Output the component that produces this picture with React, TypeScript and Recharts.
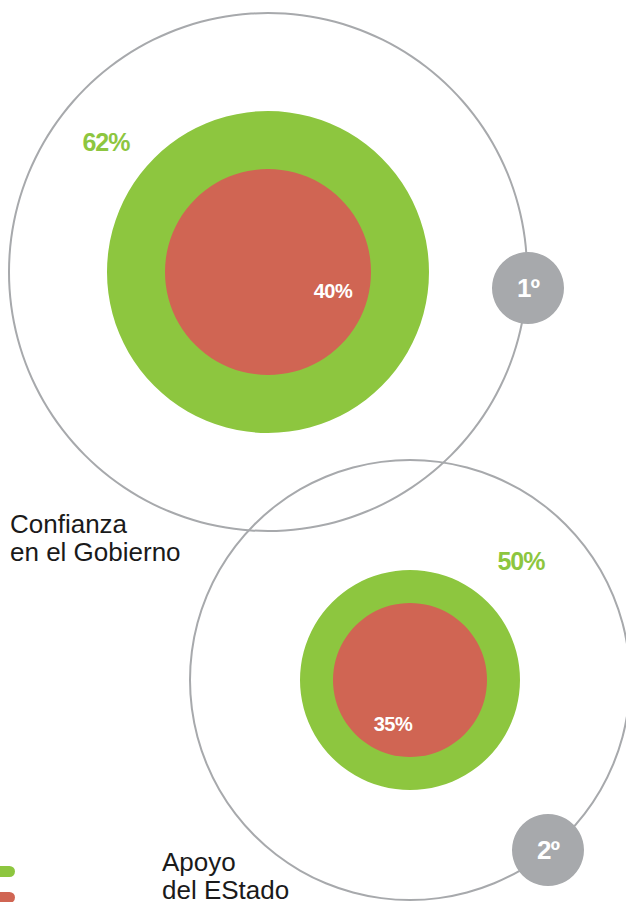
import { PieChart, Pie, Cell } from 'recharts';

// data
const groups = [['Confianza', 'en el Gobierno'], ['Apoyo', 'del EStado']];
const greenValues = [62, 50];
const redValues = [40, 35];
const ranks = ['1º', '2º'];

const GREEN = '#8dc63f';
const RED = '#d06553';
const GRAY = '#a7a9ac';
const FONT = '"Liberation Sans", Arial, Helvetica, sans-serif';

// layout (pixels)
const layout = [
  {
    cx: 268, cy: 272, outer: 259, green: 161, red: 103,
    badge: { x: 528, y: 288 },
    greenLabel: { x: 106, y: 151 }, redLabel: { x: 333, y: 298 },
    name: { x: 10, y: 533 },
  },
  {
    cx: 410, cy: 680, outer: 220, green: 110, red: 77,
    badge: { x: 548, y: 850 },
    greenLabel: { x: 521, y: 570 }, redLabel: { x: 393, y: 731 },
    name: { x: 162, y: 871 },
  },
];

const one = [{ value: 1 }];

export default function App() {
  return (
    <div style={{ position: 'absolute', left: 0, top: 0, width: 626, height: 902, background: '#fff' }}>
      <PieChart width={626} height={902} margin={{ top: 0, right: 0, bottom: 0, left: 0 }}>
        {layout.map((g, i) => (
          <Pie
            key={`outline-${i}`}
            data={one}
            dataKey="value"
            cx={g.cx}
            cy={g.cy}
            innerRadius={g.outer - 1}
            outerRadius={g.outer + 1}
            startAngle={90}
            endAngle={-270}
            stroke="none"
            fill={GRAY}
            isAnimationActive={false}
          />
        ))}
        {layout.map((g, i) => (
          <Pie
            key={`green-${i}`}
            data={[{ name: 'verde', value: greenValues[i] }]}
            dataKey="value"
            cx={g.cx}
            cy={g.cy}
            outerRadius={g.green}
            startAngle={90}
            endAngle={-270}
            stroke="none"
            isAnimationActive={false}
          >
            <Cell fill={GREEN} />
          </Pie>
        ))}
        {layout.map((g, i) => (
          <Pie
            key={`red-${i}`}
            data={[{ name: 'rojo', value: redValues[i] }]}
            dataKey="value"
            cx={g.cx}
            cy={g.cy}
            outerRadius={g.red}
            startAngle={90}
            endAngle={-270}
            stroke="none"
            isAnimationActive={false}
          >
            <Cell fill={RED} />
          </Pie>
        ))}
        {layout.map((g, i) => (
          <Pie
            key={`badge-${i}`}
            data={one}
            dataKey="value"
            cx={g.badge.x}
            cy={g.badge.y}
            outerRadius={36}
            startAngle={90}
            endAngle={-270}
            stroke="none"
            fill={GRAY}
            isAnimationActive={false}
          />
        ))}
      </PieChart>

      {/* text layer on top of the pies */}
      <svg
        width={626}
        height={902}
        style={{ position: 'absolute', left: 0, top: 0, pointerEvents: 'none', fontFamily: FONT }}
      >
        {layout.map((g, i) => (
          <g key={`labels-${i}`}>
            <text x={g.greenLabel.x} y={g.greenLabel.y} textAnchor="middle" fill={GREEN} fontSize={25} fontWeight="bold" letterSpacing={-1}>
              {greenValues[i]}%
            </text>
            <text x={g.redLabel.x} y={g.redLabel.y} textAnchor="middle" fill="#fff" fontSize={20} fontWeight="bold" letterSpacing={-0.5}>
              {redValues[i]}%
            </text>
            <text x={g.badge.x} y={g.badge.y + 9} textAnchor="middle" fill="#fff" fontSize={26} fontWeight="bold" letterSpacing={-1}>
              {ranks[i]}
            </text>
            <text x={g.name.x} y={g.name.y} fill="#1a1a1a" fontSize={26}>
              {groups[i][0]}
            </text>
            <text x={g.name.x} y={g.name.y + 28} fill="#1a1a1a" fontSize={26}>
              {groups[i][1]}
            </text>
          </g>
        ))}

        {/* legend markers, cut off at the left edge */}
        <rect x={-10} y={866} width={25} height={11} rx={5.5} fill={GREEN} />
        <rect x={-10} y={892} width={25} height={11} rx={5.5} fill={RED} />
      </svg>
    </div>
  );
}
